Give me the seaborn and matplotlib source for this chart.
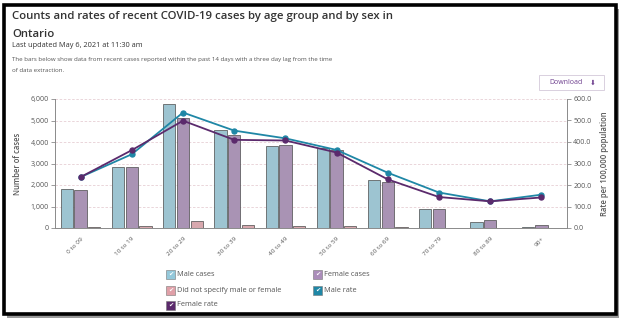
import numpy as np
import pandas as pd
import matplotlib
matplotlib.use("Agg")
import matplotlib.pyplot as plt
import seaborn as sns
from matplotlib.patches import Rectangle
from matplotlib.ticker import FuncFormatter, FixedLocator

ages = ["0 to 09", "10 to 19", "20 to 29", "30 to 39", "40 to 49",
        "50 to 59", "60 to 69", "70 to 79", "80 to 89", "90+"]
male_cases = [1830, 2860, 5750, 4560, 3830, 3710, 2240, 900, 280, 60]
female_cases = [1750, 2860, 5130, 4330, 3870, 3630, 2120, 900, 390, 140]
unspecified_cases = [50, 100, 310, 140, 100, 100, 50, 15, 10, 0]
male_rate = [237, 343, 537, 453, 417, 363, 257, 165, 124, 155]
female_rate = [237, 362, 499, 410, 407, 351, 226, 144, 124, 142]

bar_series = ["Male cases", "Female cases", "Did not specify male or female"]
line_series = ["Male rate", "Female rate"]
colors = {
    "Male cases": "#94c8da",
    "Female cases": "#ab8dba",
    "Did not specify male or female": "#e0a0a8",
    "Male rate": "#1f87a6",
    "Female rate": "#5b2a6c",
}

cases_long = pd.DataFrame({
    "age": ages * 3,
    "count": male_cases + female_cases + unspecified_cases,
    "series": [bar_series[0]] * 10 + [bar_series[1]] * 10 + [bar_series[2]] * 10,
})
rates_long = pd.DataFrame({
    "age": ages * 2,
    "rate": male_rate + female_rate,
    "series": [line_series[0]] * 10 + [line_series[1]] * 10,
})

sns.set_style("white")
plt.rcParams["font.family"] = ["Open Sans", "DejaVu Sans"]

W, H = 624, 324
fig = plt.figure(figsize=(W / 100, H / 100), dpi=100)

def fx(px):
    return px / W

def fy(py):
    return 1 - py / H

# frame with shadow
fig.patches.append(Rectangle((fx(7), fy(318)), fx(612), (315 - 6) / H, transform=fig.transFigure,
                             facecolor="#9a9a9a", edgecolor="none", zorder=-2))
fig.patches.append(Rectangle((fx(4), fy(314)), fx(612), (312 - 3) / H, transform=fig.transFigure,
                             facecolor="white", edgecolor="black", linewidth=2.6, zorder=-1))

ax = fig.add_axes([fx(55), fy(228), fx(567 - 55), (228 - 99) / H])
sns.barplot(data=cases_long, x="age", y="count", hue="series", order=ages,
            hue_order=bar_series, palette=colors, width=0.8, gap=0.1,
            edgecolor="#4a4a4a", linewidth=0.5, legend=False, ax=ax, errorbar=None)
ax.set_ylim(0, 6000)
ax.set_xlim(-0.5, 9.5)
ax.set_yticks(np.arange(0, 6001, 1000))
ax.yaxis.set_major_formatter(FuncFormatter(lambda v, p: f"{int(v):,}"))
ax.set_axisbelow(True)
ax.grid(axis="y", color="#e6cfd4", linestyle=(0, (3, 2)), linewidth=0.6)
ax.grid(axis="x", visible=False)
ax.set_xlabel("")
ax.set_ylabel("Number of cases", fontsize=5.5, color="#555555", fontweight="semibold", labelpad=6)
for s in ["top", "right"]:
    ax.spines[s].set_visible(False)
for s in ["left", "bottom"]:
    ax.spines[s].set_color("#8a8a8a")
    ax.spines[s].set_linewidth(0.7)
ax.tick_params(axis="y", labelsize=5, colors="#8a8a8a", labelcolor="#555555", length=3, width=0.6, pad=1.5)
ax.set_xticks(range(len(ages)))
ax.set_xticklabels(ages, rotation=45, ha="right", rotation_mode="anchor", fontsize=4.6, color="#555555")
ax.tick_params(axis="x", length=0, pad=6)
ax.xaxis.set_minor_locator(FixedLocator(np.arange(-0.5, 10, 1)))
ax.tick_params(axis="x", which="minor", length=4, width=0.6, colors="#8a8a8a")

ax2 = ax.twinx()
sns.pointplot(data=rates_long, x="age", y="rate", hue="series", order=ages,
              hue_order=line_series, palette=colors, markers="o", errorbar=None,
              markersize=3.6, linewidth=1.3, legend=False, ax=ax2)
ax2.set_ylim(0, 600)
ax2.set_xlim(-0.5, 9.5)
ax2.set_yticks(np.arange(0, 601, 100))
ax2.yaxis.set_major_formatter(FuncFormatter(lambda v, p: f"{v:.1f}"))
ax2.set_ylabel("Rate per 100,000 population", fontsize=5.5, color="#555555", fontweight="semibold",
               labelpad=6)
ax2.yaxis.set_label_position("right")
for s in ["top", "left", "bottom"]:
    ax2.spines[s].set_visible(False)
ax2.spines["right"].set_color("#8a8a8a")
ax2.spines["right"].set_linewidth(0.7)
ax2.tick_params(axis="y", labelsize=5, colors="#8a8a8a", labelcolor="#555555", length=3, width=0.6, pad=1.5)
ax2.grid(False)
ax2.set_xlabel("")

# titles
fig.text(fx(12), fy(19), "Counts and rates of recent COVID-19 cases by age group and by sex in",
         fontsize=8.2, fontweight="semibold", color="#333333", va="baseline")
fig.text(fx(12), fy(37), "Ontario", fontsize=8.2, fontweight="semibold", color="#333333", va="baseline")
fig.text(fx(12), fy(47), "Last updated May 6, 2021 at 11:30 am", fontsize=5.3, color="#333333", va="baseline")
fig.text(fx(12), fy(61), "The bars below show data from recent cases reported within the past 14 days with a three day lag from the time",
         fontsize=4.4, color="#555555", va="baseline")
fig.text(fx(12), fy(72), "of data extraction.", fontsize=4.4, color="#555555", va="baseline")

# download button
fig.patches.append(Rectangle((fx(539), fy(90)), fx(65), 15 / H, transform=fig.transFigure,
                             facecolor="white", edgecolor="#d9d0de", linewidth=0.7))
fig.text(fx(566), fy(83), "Download", fontsize=5, color="#6e3f8e", ha="center", va="center")
fig.text(fx(593), fy(82.5), "\u2b07", fontsize=5, color="#6e3f8e", ha="center", va="center",
         family=["DejaVu Sans", "Noto Sans CJK SC"])

# legend with checkboxes
legend_items = [
    ("Male cases", 166, 274),
    ("Female cases", 313, 274),
    ("Did not specify male or female", 166, 290),
    ("Male rate", 313, 290),
    ("Female rate", 166, 305),
]
for name, x0, yc in legend_items:
    fig.patches.append(Rectangle((fx(x0), fy(yc + 4.5)), fx(9), 9 / H, transform=fig.transFigure,
                                 facecolor=colors[name], edgecolor="#777777", linewidth=0.4))
    fig.text(fx(x0 + 4.5), fy(yc), "\u2714", fontsize=4.5, color="white", ha="center", va="center",
             family=["DejaVu Sans"])
    fig.text(fx(x0 + 11), fy(yc), name, fontsize=5.3, color="#555555", ha="left", va="center")

fig.savefig("out.png", dpi=100)
